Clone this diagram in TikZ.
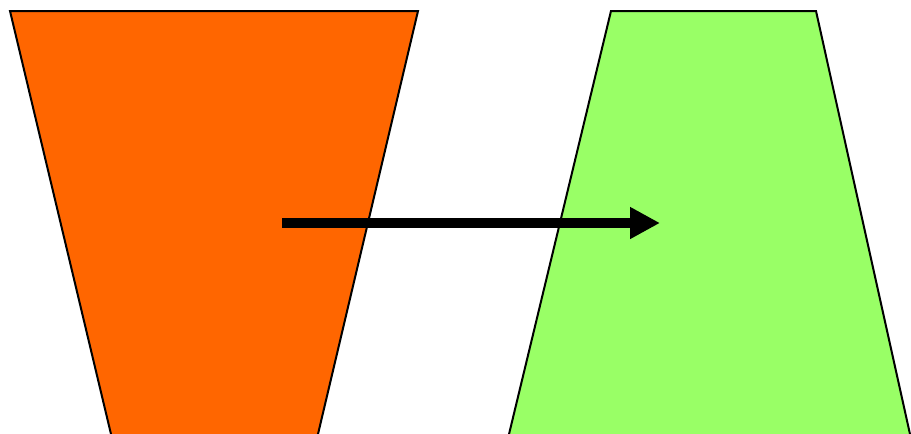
\documentclass[tikz,border=0pt]{standalone}
\usetikzlibrary{arrows.meta}
\definecolor{trapOrange}{HTML}{FF6600}
\definecolor{trapGreen}{HTML}{99FF66}
\tikzset{
  trap/.style={draw=black, line width=1pt, line join=miter},
  bigarrow/.style={line width=5pt, -{Triangle[length=15pt,width=15pt]}}
}
\begin{document}
\begin{tikzpicture}[x=0.5pt,y=-0.5pt]
  \useasboundingbox (0,0) rectangle (911,434);
  \clip (0,0) rectangle (911,434);
  % funnel on the left, wide at the top
  \draw[trap, fill=trapOrange] (10,11) -- (418,11) -- (316.6,440) -- (112.4,440) -- cycle;
  % the other one, wide at the bottom
  \draw[trap, fill=trapGreen] (611,11) -- (816,11) -- (911.3,440) -- (507.6,440) -- cycle;
  \coordinate (start) at (282,223);
  \coordinate (stop) at (660,223);
  \draw[bigarrow] (start) -- (stop);
\end{tikzpicture}
\end{document}
